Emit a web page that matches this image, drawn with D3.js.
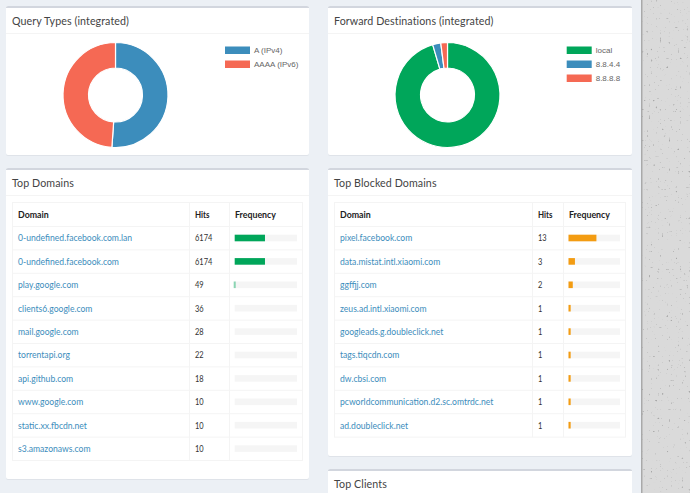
<!DOCTYPE html>
<html>
<head>
<meta charset="utf-8">
<script src="https://cdn.jsdelivr.net/npm/d3@7"></script>
<style>
  html, body { margin: 0; padding: 0; background: #ecf0f5; overflow: hidden; }
  svg { display: block; }
  text { font-family: Lato, sans-serif; }
  .title { font-size: 12.2px; fill: #444; letter-spacing: 0.1px; }
  .head { font-size: 8.8px; font-weight: 700; fill: #222; }
  .cell { font-size: 8.8px; fill: #333; }
  .link { font-size: 8.6px; fill: #3c8dbc; }
  .legend { font-family: "Liberation Sans", sans-serif; font-size: 8px; fill: #666; }
</style>
</head>
<body>
<svg id="chart" width="690" height="493"></svg>
<script>
var queryLabels = ["A (IPv4)", "AAAA (IPv6)"];
var queryValues = [51.1, 48.9];
var queryColors = ["#3c8dbc", "#f56954"];

var forwardLabels = ["local", "8.8.4.4", "8.8.8.8"];
var forwardValues = [95.45, 2.5, 2.05];
var forwardColors = ["#00a65a", "#3c8dbc", "#f56954"];

var topDomains = ["0-undefined.facebook.com.lan", "0-undefined.facebook.com", "play.google.com", "clients6.google.com", "mail.google.com", "torrentapi.org", "api.github.com", "www.google.com", "static.xx.fbcdn.net", "s3.amazonaws.com"];
var topHits = [6174, 6174, 49, 36, 28, 22, 18, 10, 10, 10];
var topFreq = [48.6, 48.6, 1.6, 0, 0, 0, 0, 0, 0, 0];

var blockedDomains = ["pixel.facebook.com", "data.mistat.intl.xiaomi.com", "ggffjj.com", "zeus.ad.intl.xiaomi.com", "googleads.g.doubleclick.net", "tags.tiqcdn.com", "dw.cbsi.com", "pcworldcommunication.d2.sc.omtrdc.net", "ad.doubleclick.net"];
var blockedHits = [13, 3, 2, 1, 1, 1, 1, 1, 1];
var blockedFreq = [54.2, 12.5, 8.3, 4.2, 4.2, 4.2, 4.2, 4.2, 4.2];

var svg = d3.select("#chart");

// speckled wall on the right of the screenshot
var defs = svg.append("defs");
var noise = defs.append("filter").attr("id", "speckle").attr("x", 0).attr("y", 0).attr("width", 1).attr("height", 1)
  .attr("color-interpolation-filters", "sRGB");
noise.append("feTurbulence").attr("type", "fractalNoise").attr("baseFrequency", 0.45).attr("numOctaves", 1).attr("seed", 4);
noise.append("feColorMatrix").attr("type", "matrix")
  .attr("values", "0 0 0 0 0.66  0 0 0 0 0.66  0 0 0 0 0.66  8 0 0 0 -5.4");

svg.append("rect").attr("x", 641).attr("y", 0).attr("width", 49).attr("height", 493).attr("fill", "#dadada");
svg.append("rect").attr("x", 641).attr("y", 0).attr("width", 49).attr("height", 493).attr("filter", "url(#speckle)");
svg.append("rect").attr("x", 641).attr("y", 0).attr("width", 1.5).attr("height", 493).attr("fill", "#a9a9a9");

// Lato is wider than the page's font, so long texts get squeezed a bit
function squeeze(x, y, k) {
  return "translate(" + x + "," + y + ") scale(" + k + ",1)";
}

function panel(x, y, w, h, title, headerLine) {
  svg.append("rect").attr("x", x).attr("y", y + 1).attr("width", w).attr("height", h).attr("rx", 2).attr("fill", "#dfe3e9");
  svg.append("rect").attr("x", x).attr("y", y).attr("width", w).attr("height", h).attr("rx", 2).attr("fill", "#fff");
  svg.append("path").attr("d", "M" + x + "," + (y + 1.5) + "q0,-1.5 2,-1.5h" + (w - 4) + "q2,0 2,1.5v0.5h-" + w + "z").attr("fill", "#d2d6de");
  if (headerLine) {
    svg.append("line").attr("x1", x).attr("x2", x + w).attr("y1", headerLine + 0.5).attr("y2", headerLine + 0.5).attr("stroke", "#f4f4f4");
  }
  svg.append("text").attr("class", "title").attr("transform", squeeze(x + 6, y + 18.5, 0.875)).text(title);
}

function donut(cx, cy, labels, values, colors, legendX) {
  var pie = d3.pie().sort(null);
  var arc = d3.arc().innerRadius(27).outerRadius(52.5);
  svg.append("g").attr("transform", "translate(" + cx + "," + cy + ")")
    .selectAll("path").data(pie(values)).join("path")
    .attr("d", arc)
    .attr("fill", function (d, i) { return colors[i]; })
    .attr("stroke", "#fff").attr("stroke-width", 1.2);

  var rowY = d3.scalePoint().domain(labels).range([50, 50 + 14 * (labels.length - 1)]);
  var legend = svg.append("g").selectAll("g").data(labels).join("g")
    .attr("transform", function (d) { return "translate(" + legendX + "," + rowY(d) + ")"; });
  legend.append("rect").attr("y", -3.5).attr("width", 25).attr("height", 7.5)
    .attr("fill", function (d, i) { return colors[i]; });
  legend.append("text").attr("class", "legend").attr("x", 29).attr("y", 3).text(function (d) { return d; });
}

function table(x0, cols, domains, hits, pct, barColor, barRange) {
  var names = ["Domain", "Hits", "Frequency"];
  var rowH = 23.4;
  var top = 202.5, headBottom = 226.5;
  var y = d3.scaleBand().domain(d3.range(domains.length))
    .range([headBottom, headBottom + rowH * domains.length]);
  var bottom = y.range()[1];
  var freq = d3.scaleLinear().domain([0, 100]).range(barRange);
  var g = svg.append("g");

  g.append("rect").attr("x", x0).attr("y", top).attr("width", cols[3] - x0).attr("height", bottom - top)
    .attr("fill", "none").attr("stroke", "#f4f4f4");
  g.selectAll("line.col").data(cols.slice(1, 3)).join("line").attr("class", "col")
    .attr("x1", function (d) { return d; }).attr("x2", function (d) { return d; })
    .attr("y1", top).attr("y2", bottom).attr("stroke", "#f4f4f4");
  g.selectAll("line.row").data(domains).join("line").attr("class", "row")
    .attr("x1", x0).attr("x2", cols[3])
    .attr("y1", function (d, i) { return y(i); }).attr("y2", function (d, i) { return y(i); })
    .attr("stroke", "#f4f4f4");

  var headX = [x0 + 5.5, cols[1] + 5.5, cols[2] + 5.5];
  g.selectAll("text.head").data(names).join("text").attr("class", "head")
    .attr("transform", function (d, i) { return squeeze(headX[i], 218, i == 1 ? 0.9 : 1); })
    .text(function (d) { return d; });

  g.selectAll("text.link").data(domains).join("text").attr("class", "link")
    .attr("x", headX[0]).attr("y", function (d, i) { return y(i) + 14.8; }).text(function (d) { return d; });
  g.selectAll("text.cell").data(hits).join("text").attr("class", "cell")
    .attr("transform", function (d, i) { return squeeze(headX[1], y(i) + 14.8, 0.85); })
    .text(function (d) { return d; });

  g.selectAll("rect.track").data(pct).join("rect").attr("class", "track")
    .attr("x", barRange[0]).attr("y", function (d, i) { return y(i) + 8.2; })
    .attr("width", barRange[1] - barRange[0]).attr("height", 6.6).attr("fill", "#f5f5f5");
  g.selectAll("rect.bar").data(pct).join("rect").attr("class", "bar")
    .attr("x", function (d) { return d < 2 ? barRange[0] - 1 : barRange[0]; })
    .attr("y", function (d, i) { return y(i) + 8.2; })
    .attr("width", function (d) { return d < 2 ? 2 * (freq(d) - barRange[0]) : freq(d) - barRange[0]; })
    .attr("height", 6.6).attr("fill", barColor)
    .attr("opacity", function (d) { return d < 2 ? 0.45 : 1; });
}

panel(6, 6, 303, 149, "Query Types (integrated)", 33);
panel(328, 6, 304, 149, "Forward Destinations (integrated)", 33);
panel(6, 168, 303, 311, "Top Domains", 195);
panel(328, 168, 304, 288, "Top Blocked Domains", 195);
panel(328, 469, 304, 40, "Top Clients", 496);

donut(115.5, 95, queryLabels, queryValues, queryColors, 225);
donut(447.5, 95, forwardLabels, forwardValues, forwardColors, 566.7);

table(12.5, [12.5, 189.5, 229.5, 302.5], topDomains, topHits, topFreq, "#00a65a", [234.7, 297]);
table(334.5, [334.5, 532.5, 563.5, 625.5], blockedDomains, blockedHits, blockedFreq, "#f39c12", [568.5, 620]);
</script>
</body>
</html>
